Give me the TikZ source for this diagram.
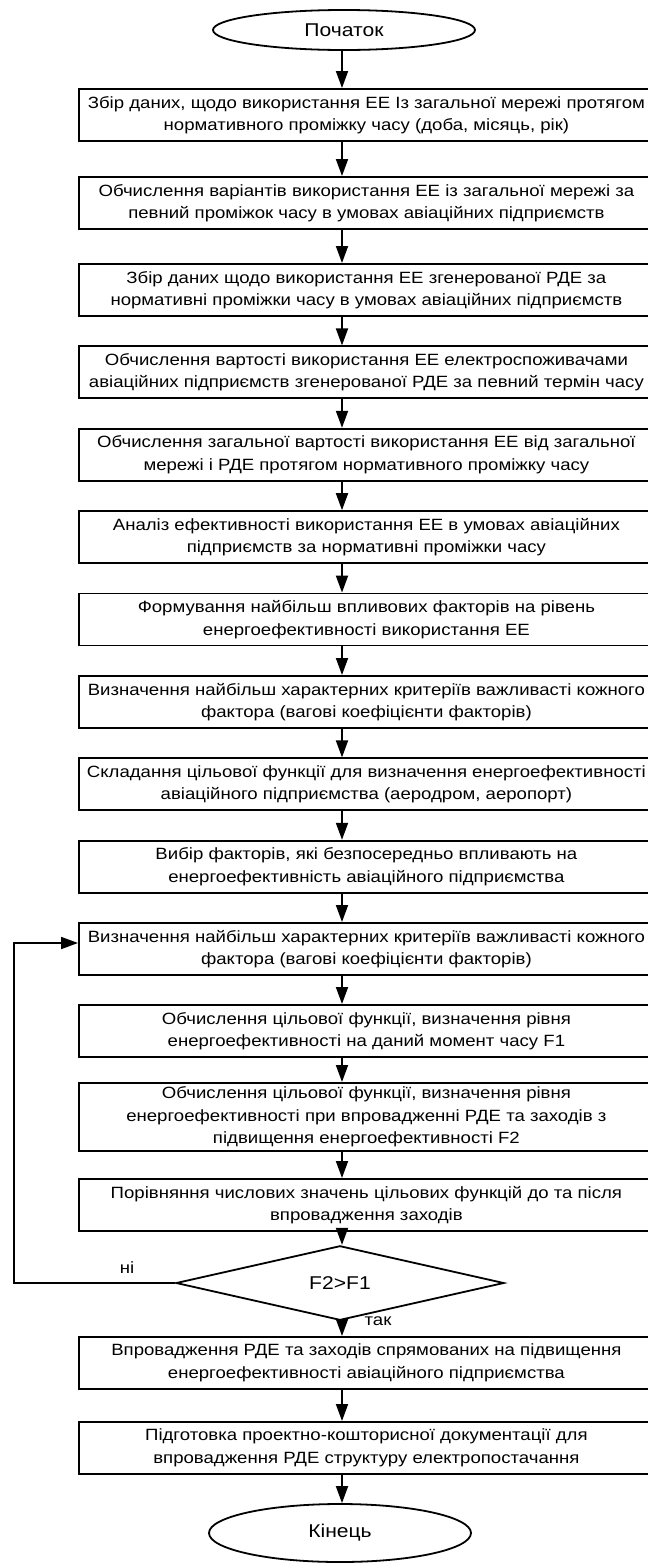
\documentclass[tikz,border=0pt]{standalone}
\usepackage{fontspec}
\setmainfont{Liberation Sans}[FakeStretch=1.14]
\usetikzlibrary{shapes.geometric,arrows.meta}
\begin{document}
\begin{tikzpicture}[x=1pt,y=-1pt,
  box/.style={draw, line width=1.8pt, rectangle, anchor=north west, minimum width=575pt, minimum height=52pt, align=center, inner sep=0pt, font=\fontsize{16.3}{22.3}\selectfont},
  term/.style={draw, ellipse, line width=1.8pt, minimum width=262pt, minimum height=40pt, inner sep=0pt, font=\fontsize{18.5}{22}\selectfont},
  decis/.style={draw, diamond, line width=1.8pt, minimum width=328pt, minimum height=50pt, inner sep=0pt, font=\fontsize{18.5}{22}\selectfont},
  arr/.style={line width=1.8pt, -{Triangle[length=17pt,width=12pt]}},
  lbl/.style={inner sep=0pt, font=\fontsize{16.3}{20}\selectfont}]
\useasboundingbox (0,0) rectangle (648,1564);
\coordinate (ax) at (342,0);
\coordinate (lx) at (14,0);
\node[term] (start) at (344,30) {Початок};
\node[box] (b1) at (78,88) {Збір даних, щодо використання ЕЕ Із загальної мережі протягом\\нормативного проміжку часу (доба, місяць, рік)};
\node[box] (b2) at (78,176) {Обчислення варіантів використання ЕЕ із загальної мережі за\\певний проміжок часу в умовах авіаційних підприємств};
\node[box] (b3) at (78,263) {Збір даних щодо використання ЕЕ згенерованої РДЕ за\\нормативні проміжки часу в умовах авіаційних підприємств};
\node[box] (b4) at (78,345.4) {Обчислення вартості використання ЕЕ електроспоживачами\\авіаційних підприємств згенерованої РДЕ за певний термін часу};
\node[box] (b5) at (78,427.8) {Обчислення загальної вартості використання ЕЕ від загальної\\мережі і РДЕ протягом нормативного проміжку часу};
\node[box] (b6) at (78,510.2) {Аналіз ефективності використання ЕЕ в умовах авіаційних\\підприємств за нормативні проміжки часу};
\node[box] (b7) at (78,592.6) {Формування найбільш впливових факторів на рівень\\енергоефективності використання ЕЕ};
\node[box] (b8) at (78,675) {Визначення найбільш характерних критеріїв важливасті кожного\\фактора (вагові коефіцієнти факторів)};
\node[box] (b9) at (78,757.4) {Складання цільової функції для визначення енергоефективності\\авіаційного підприємства (аеродром, аеропорт)};
\node[box] (b10) at (78,839.8) {Вибір факторів, які безпосередньо впливають на\\енергоефективність авіаційного підприємства};
\node[box] (b11) at (78,922) {Визначення найбільш характерних критеріїв важливасті кожного\\фактора (вагові коефіцієнти факторів)};
\node[box] (b12) at (78,1004) {Обчислення цільової функції, визначення рівня\\енергоефективності на даний момент часу F1};
\node[box, minimum height=68pt] (b13) at (78,1082) {Обчислення цільової функції, визначення рівня\\енергоефективності при впровадженні РДЕ та заходів з\\підвищення енергоефективності F2};
\node[box] (b14) at (78,1178) {Порівняння числових значень цільових функцій до та після\\впровадження заходів};
\node[decis] (dec) at (340,1283) {F2>F1};
\node[box] (b15) at (78,1336) {Впровадження РДЕ та заходів спрямованих на підвищення\\енергоефективності авіаційного підприємства};
\node[box] (b16) at (78,1421) {Підготовка проектно-кошторисної документації для\\впровадження РДЕ структуру електропостачання};
\node[term, minimum height=58pt] (end) at (340,1533) {Кінець};
\coordinate (b11in) at (78,943);
\node[lbl] (no) at (127,1268) {ні};
\node[lbl] (yes) at (378,1321) {так};
\draw[arr] (start.south -| ax) -- (b1.north -| ax);
\foreach \a/\b in {b1/b2,b2/b3,b3/b4,b4/b5,b5/b6,b6/b7,b7/b8,b8/b9,b9/b10,b10/b11,b11/b12,b12/b13,b13/b14,b15/b16}
  \draw[arr] (\a.south -| ax) -- (\b.north -| ax);
\draw[arr] (b14.south -| ax) -- (dec.north -| ax);
\draw[arr] (dec.south -| ax) -- (b15.north -| ax);
\draw[arr] (b16.south -| ax) -- (end.north -| ax);
\draw[arr] (dec.west) -- (dec.west -| lx) |- (b11in);
\end{tikzpicture}
\end{document}
